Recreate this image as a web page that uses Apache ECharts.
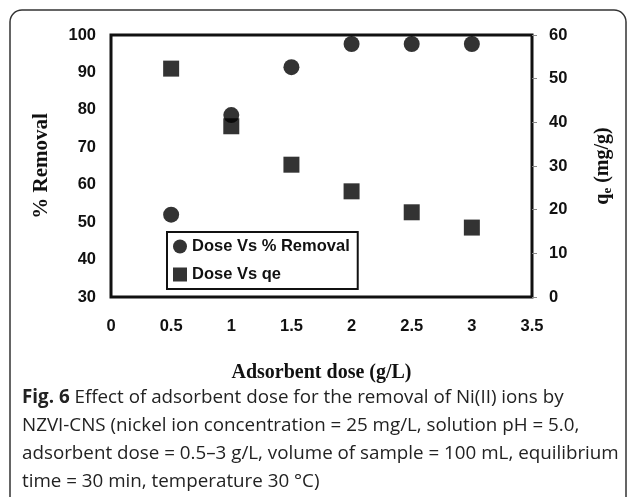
<!DOCTYPE html>
<html>
<head>
<meta charset="utf-8">
<script src="https://cdn.jsdelivr.net/npm/echarts@6/dist/echarts.min.js"></script>
<style>
  html, body { margin: 0; padding: 0; background: #fff; }
  #chart { width: 630px; height: 497px; }
</style>
</head>
<body>
<div id="chart"></div>
<script>
// adsorbent dose (g/L)
var doses = [0.5, 1, 1.5, 2, 2.5, 3]
// % removal (left axis)
var removal = [52, 78.6, 91.4, 97.6, 97.6, 97.6]
// qe in mg/g (right axis)
var qe = [52.3, 39.1, 30.3, 24.2, 19.4, 15.9]

var xRange = [0, 3.5, 0.5]
var leftRange = [30, 100, 10]
var rightRange = [0, 60, 10]

var captionLines = [
  '{b|Fig. 6} Effect of adsorbent dose for the removal of Ni(II) ions by',
  'NZVI-CNS (nickel ion concentration = 25 mg/L, solution pH = 5.0,',
  'adsorbent dose = 0.5\u20133 g/L, volume of sample = 100 mL, equilibrium',
  'time = 30 min, temperature 30 \u00b0C)'
]

var chart = echarts.init(document.getElementById('chart'))

var labelFont = {
  fontFamily: 'Liberation Sans, Arial',
  fontWeight: 'bold',
  fontSize: 16.5,
  color: '#111'
}
var titleFont = {
  fontFamily: 'Liberation Serif, Times New Roman',
  fontWeight: 'bold',
  fontSize: 20,
  color: '#111'
}

function pairs(xs, ys) {
  return xs.map(function (x, i) { return [x, ys[i]] })
}

// caption text + rounded frame
var graphics = [
  {
    type: 'rect',
    shape: { x: 10, y: 10, width: 616, height: 520, r: 12 },
    style: { fill: 'none', stroke: '#333', lineWidth: 1.5 },
    silent: true
  }
]
captionLines.forEach(function (line, i) {
  graphics.push({
    type: 'text',
    left: 22,
    top: 388 + i * 28,
    style: {
      text: line,
      font: '18.8px "Open Sans"',
      fill: '#222',
      rich: {
        b: { font: 'bold 18.8px "Open Sans"', fill: '#222' }
      }
    }
  })
})

var option = {
  animation: false,
  grid: {
    left: 111, top: 35, width: 421, height: 262,
    show: true, borderColor: '#111', borderWidth: 3
  },
  legend: {
    orient: 'vertical',
    left: 167, top: 232,
    padding: [6, 8, 6, 6],
    itemGap: 11,
    itemWidth: 14, itemHeight: 14,
    borderColor: '#111', borderWidth: 2,
    textStyle: labelFont,
    data: [
      { name: 'Dose Vs % Removal', icon: 'circle' },
      { name: 'Dose Vs qe', icon: 'rect' }
    ]
  },
  xAxis: {
    type: 'value',
    min: xRange[0], max: xRange[1], interval: xRange[2],
    name: 'Adsorbent dose (g/L)',
    nameLocation: 'middle', nameGap: 66,
    nameTextStyle: titleFont,
    axisLine: { show: false },
    axisTick: { show: false },
    splitLine: { show: false },
    axisLabel: Object.assign({ margin: 21 }, labelFont)
  },
  yAxis: [
    {
      type: 'value',
      min: leftRange[0], max: leftRange[1], interval: leftRange[2],
      name: '% Removal',
      nameLocation: 'middle', nameGap: 59,
      nameTextStyle: Object.assign({}, titleFont, { fontSize: 21 }),
      axisLine: { show: false },
      axisTick: { show: false },
      splitLine: { show: false },
      axisLabel: Object.assign({ margin: 15 }, labelFont)
    },
    {
      type: 'value',
      position: 'right',
      min: rightRange[0], max: rightRange[1], interval: rightRange[2],
      name: '{q|q}{s|e}{q| (mg/g)}',
      nameLocation: 'middle', nameGap: 60,
      nameTextStyle: {
        rich: {
          q: titleFont,
          s: { fontFamily: 'Liberation Serif', fontWeight: 'bold', fontSize: 13, color: '#111', verticalAlign: 'bottom', padding: [9, 0, 0, 0] }
        }
      },
      axisLine: { show: false },
      axisTick: { show: true, length: 5, lineStyle: { color: '#888', width: 1 } },
      splitLine: { show: false },
      axisLabel: Object.assign({ margin: 17 }, labelFont)
    }
  ],
  series: [
    {
      name: 'Dose Vs % Removal',
      type: 'scatter',
      yAxisIndex: 0,
      symbol: 'circle',
      symbolSize: 16,
      itemStyle: { color: '#000' },
      data: pairs(doses, removal)
    },
    {
      name: 'Dose Vs qe',
      type: 'scatter',
      yAxisIndex: 1,
      symbol: 'rect',
      symbolSize: 16,
      itemStyle: { color: '#000' },
      data: pairs(doses, qe)
    }
  ],
  graphic: graphics
}

chart.setOption(option)
</script>
</body>
</html>
